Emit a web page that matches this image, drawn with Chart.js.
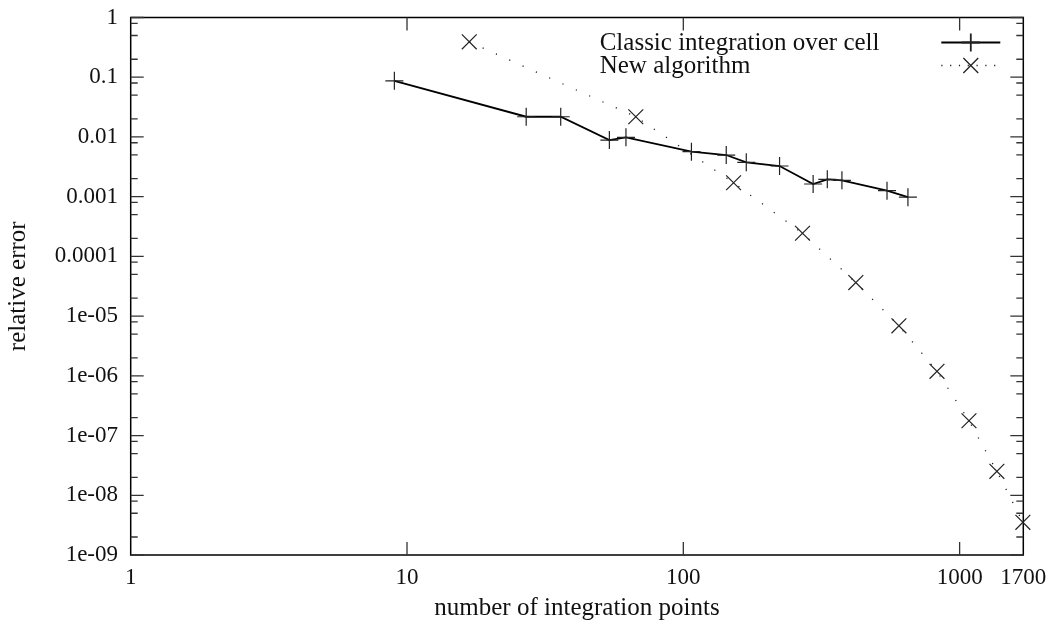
<!DOCTYPE html>
<html>
<head>
<meta charset="utf-8">
<title>Relative error vs. integration points</title>
<script src="https://cdn.jsdelivr.net/npm/chart.js@4/dist/chart.umd.min.js"></script>
<style>
  html, body { margin: 0; padding: 0; background: #fff; }
  canvas { display: block; }
</style>
</head>
<body>
<canvas id="chart" width="1053" height="624"></canvas>
<script>
// Relative error of the two integration schemes
const seriesLabels = ['Classic integration over cell', 'New algorithm'];

const classicPoints = [9, 27, 36, 54, 62, 107, 143, 169, 223, 295, 332, 375, 546, 650];
const classicError  = [0.087, 0.0218, 0.0218, 0.00887, 0.00985, 0.00566, 0.00498,
                       0.00376, 0.00326, 0.00163, 0.00195, 0.00188, 0.00126, 0.00098];

const newPoints = [16.8, 67.3, 152, 270, 421, 603, 828, 1081, 1364, 1694];
const newError  = [0.391, 0.0218, 0.00171, 0.000244, 3.65e-5, 6.88e-6,
                   1.19e-6, 1.77e-7, 2.52e-8, 3.53e-9];

// Axis ticks
const xTickValues = [1, 10, 100, 1000, 1700];
const xTickLabels = ['1', '10', '100', '1000', '1700'];
const yTickValues = [1, 0.1, 0.01, 0.001, 0.0001, 1e-5, 1e-6, 1e-7, 1e-8, 1e-9];
const yTickLabels = ['1', '0.1', '0.01', '0.001', '0.0001', '1e-05', '1e-06', '1e-07', '1e-08', '1e-09'];
const yMinorFactors = [0.2, 0.5, 0.8];

const FONT = '"Liberation Serif", "Times New Roman", serif';
const TEXT = '#111';

function toXY(xs, ys) { return xs.map((x, i) => ({ x: x, y: ys[i] })); }
function labelFor(values, labels, v) {
  const i = values.findIndex(t => Math.abs(Math.log10(t) - Math.log10(v)) < 1e-6);
  return i >= 0 ? labels[i] : '';
}
// Fixed axis box size; end labels may hang over the plot edges
function fixBox(s, size) {
  if (s.isHorizontal()) s.height = size; else s.width = size;
  s.paddingTop = s.paddingBottom = s.paddingLeft = s.paddingRight = 0;
}

// Plot border with inward major/minor ticks on all four sides
const framePlugin = {
  id: 'frame',
  beforeDatasetsDraw(chart) {
    const { ctx, chartArea: a, scales: { x, y } } = chart;
    const major = 13, minor = 7;
    ctx.save();
    ctx.strokeStyle = '#000';
    ctx.lineWidth = 1.5;
    ctx.strokeRect(a.left, a.top, a.right - a.left, a.bottom - a.top);

    ctx.strokeStyle = '#333';
    ctx.lineWidth = 1.3;
    ctx.beginPath();
    xTickValues.forEach(v => {
      const px = x.getPixelForValue(v);
      if (px <= a.left + 1 || px >= a.right - 1) return;
      ctx.moveTo(px, a.bottom); ctx.lineTo(px, a.bottom - major);
      ctx.moveTo(px, a.top);    ctx.lineTo(px, a.top + major);
    });
    yTickValues.forEach(v => {
      const py = y.getPixelForValue(v);
      ctx.moveTo(a.left, py);  ctx.lineTo(a.left + major, py);
      ctx.moveTo(a.right, py); ctx.lineTo(a.right - major, py);
      yMinorFactors.forEach(f => {
        const m = v * f;
        if (m < y.min) return;
        const pm = y.getPixelForValue(m);
        ctx.moveTo(a.left, pm);  ctx.lineTo(a.left + minor, pm);
        ctx.moveTo(a.right, pm); ctx.lineTo(a.right - minor, pm);
      });
    });
    ctx.stroke();
    ctx.restore();
  }
};

// Key in the upper right corner: label text, then line sample with marker
const keyPlugin = {
  id: 'key',
  afterDatasetsDraw(chart) {
    const { ctx, chartArea: a } = chart;
    const textX = a.left + 469;
    const sampleL = a.right - 82, sampleR = a.right - 23;
    chart.data.datasets.forEach((ds, i) => {
      const yy = a.top + 25 + i * 23;
      ctx.save();
      ctx.font = '25px ' + FONT;
      ctx.fillStyle = TEXT;
      ctx.textAlign = 'left';
      ctx.textBaseline = 'alphabetic';
      ctx.fillText(ds.label, textX, yy + 7.8);

      ctx.strokeStyle = ds.borderColor;
      ctx.lineWidth = ds.borderWidth;
      ctx.setLineDash(ds.borderDash ? [ds.borderDash[0], 7.6] : []);
      ctx.beginPath();
      ctx.moveTo(sampleL, yy);
      ctx.lineTo(sampleR, yy);
      ctx.stroke();
      ctx.setLineDash([]);

      ctx.strokeStyle = ds.pointBorderColor;
      ctx.fillStyle = 'rgba(0,0,0,0)';
      Chart.helpers.drawPoint(ctx, {
        pointStyle: ds.pointStyle,
        radius: ds.pointRadius,
        borderWidth: ds.pointBorderWidth,
        rotation: 0
      }, (sampleL + sampleR) / 2, yy);
      ctx.restore();
    });
  }
};

new Chart(document.getElementById('chart'), {
  type: 'line',
  data: {
    datasets: [
      {
        label: seriesLabels[0],
        data: toXY(classicPoints, classicError),
        borderColor: '#000',
        borderWidth: 1.8,
        pointStyle: 'cross',
        pointRadius: 9,
        pointBorderWidth: 1.2,
        pointBorderColor: '#222',
        pointBackgroundColor: 'rgba(0,0,0,0)',
        tension: 0,
        clip: false
      },
      {
        label: seriesLabels[1],
        data: toXY(newPoints, newError),
        borderColor: '#222',
        borderWidth: 1.3,
        borderDash: [1.2, 13.4],
        pointStyle: 'crossRot',
        pointRadius: 10.5,
        pointBorderWidth: 1.2,
        pointBorderColor: '#222',
        pointBackgroundColor: 'rgba(0,0,0,0)',
        tension: 0,
        clip: false
      }
    ]
  },
  options: {
    responsive: false,
    animation: false,
    devicePixelRatio: 1,
    layout: { autoPadding: false, padding: { top: 17.5, right: 29.7, bottom: 0, left: 0 } },
    plugins: { legend: { display: false }, tooltip: { enabled: false } },
    events: [],
    scales: {
      x: {
        type: 'logarithmic',
        position: 'bottom',
        min: 1,
        max: 1700,
        afterBuildTicks: s => { s.ticks = xTickValues.map(v => ({ value: v })); },
        afterFit: s => fixBox(s, 69),
        grid: { display: false, drawTicks: false },
        border: { display: false },
        ticks: {
          autoSkip: false, maxRotation: 0, minRotation: 0, padding: 9,
          color: TEXT, font: { family: FONT, size: 23, lineHeight: 1.2 },
          callback: v => labelFor(xTickValues, xTickLabels, v)
        },
        title: {
          display: true, text: 'number of integration points', color: TEXT,
          font: { family: FONT, size: 25, lineHeight: 1.2 }, padding: { top: 0, bottom: 1 }
        }
      },
      y: {
        type: 'logarithmic',
        position: 'left',
        min: 1e-9,
        max: 1,
        afterBuildTicks: s => { s.ticks = yTickValues.map(v => ({ value: v })); },
        afterFit: s => fixBox(s, 130.7),
        grid: { display: false, drawTicks: false },
        border: { display: false },
        ticks: {
          autoSkip: false, padding: 12.7,
          color: TEXT, font: { family: FONT, size: 23, lineHeight: 1.2 },
          callback: v => labelFor(yTickValues, yTickLabels, v)
        },
        title: {
          display: true, text: 'relative error', color: TEXT,
          font: { family: FONT, size: 25, lineHeight: 1.2 }, padding: { top: 3.5, bottom: 0 }
        }
      }
    }
  },
  plugins: [framePlugin, keyPlugin]
});
</script>
</body>
</html>
